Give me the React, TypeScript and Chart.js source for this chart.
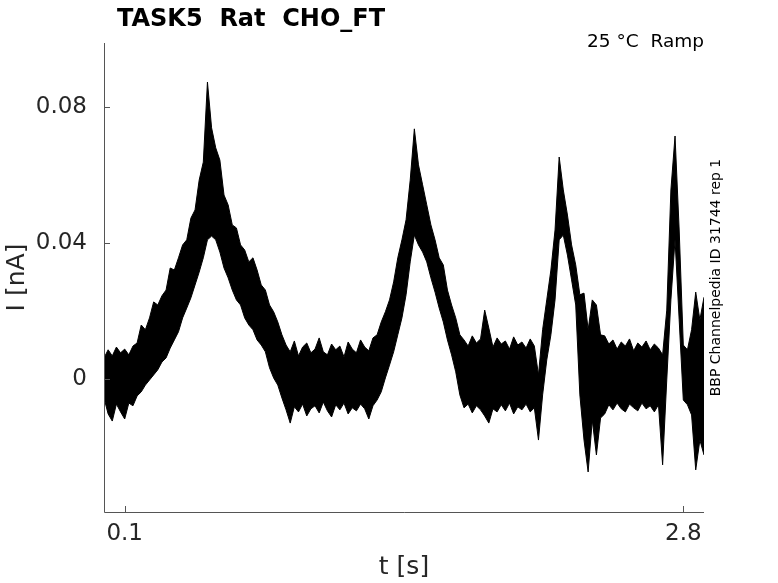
import React, { useEffect, useRef } from "react";
import { Chart, registerables } from "chart.js";

Chart.register(...registerables);

// time axis [s]
const timeS = [
  0.0, 0.02, 0.04, 0.06, 0.08, 0.1, 0.12, 0.14, 0.16, 0.18,
  0.2, 0.22, 0.24, 0.26, 0.28, 0.3, 0.32, 0.34, 0.36, 0.38,
  0.4, 0.42, 0.44, 0.46, 0.48, 0.5, 0.52, 0.54, 0.56, 0.58,
  0.6, 0.62, 0.64, 0.66, 0.68, 0.7, 0.72, 0.74, 0.76, 0.78,
  0.8, 0.82, 0.84, 0.86, 0.88, 0.9, 0.92, 0.94, 0.96, 0.98,
  1.0, 1.02, 1.04, 1.06, 1.08, 1.1, 1.12, 1.14, 1.16, 1.18,
  1.2, 1.22, 1.24, 1.26, 1.28, 1.3, 1.32, 1.34, 1.36, 1.38,
  1.4, 1.42, 1.44, 1.46, 1.48, 1.5, 1.52, 1.54, 1.56, 1.58,
  1.6, 1.62, 1.64, 1.66, 1.68, 1.7, 1.72, 1.74, 1.76, 1.78,
  1.8, 1.82, 1.84, 1.86, 1.88, 1.9, 1.92, 1.94, 1.96, 1.98,
  2.0, 2.02, 2.04, 2.06, 2.08, 2.1, 2.12, 2.14, 2.16, 2.18,
  2.2, 2.22, 2.24, 2.26, 2.28, 2.3, 2.32, 2.34, 2.36, 2.38,
  2.4, 2.42, 2.44, 2.46, 2.48, 2.5, 2.52, 2.54, 2.56, 2.58,
  2.6, 2.62, 2.64, 2.66, 2.68, 2.7, 2.72, 2.74, 2.76, 2.78,
  2.8, 2.82, 2.84, 2.86, 2.88, 2.9,
];

// upper envelope of the noisy current trace [nA]
const upperNA = [
  0.0061, 0.0085, 0.0067, 0.0093, 0.0076, 0.0087, 0.007, 0.0096, 0.0105, 0.0158,
  0.0144, 0.0179, 0.0226, 0.0217, 0.0244, 0.0261, 0.0326, 0.032, 0.0356, 0.0394,
  0.0409, 0.0473, 0.0497, 0.0585, 0.0638, 0.0874, 0.0739, 0.068, 0.0644, 0.0541,
  0.0512, 0.0453, 0.0444, 0.0394, 0.0379, 0.0344, 0.0356, 0.032, 0.0276, 0.0261,
  0.0217, 0.0197, 0.0167, 0.0129, 0.0099, 0.0079, 0.0111, 0.0067, 0.0093, 0.0105,
  0.0076, 0.0087, 0.012, 0.0079, 0.007, 0.0102, 0.0085, 0.0096, 0.0064, 0.0108,
  0.0087, 0.0076, 0.0114, 0.0093, 0.0082, 0.012, 0.0129, 0.0167, 0.0197, 0.0232,
  0.0285, 0.0356, 0.0409, 0.0468, 0.0585, 0.0736, 0.063, 0.0571, 0.0512, 0.0453,
  0.0409, 0.0356, 0.0335, 0.0261, 0.0217, 0.0179, 0.0129, 0.0114, 0.0096, 0.0126,
  0.0105, 0.0117, 0.0202, 0.0149, 0.0093, 0.012, 0.0102, 0.0111, 0.0087, 0.0123,
  0.0099, 0.0108, 0.009, 0.0117, 0.0096, 0.0011, 0.0144, 0.0232, 0.032, 0.0438,
  0.0653, 0.0556, 0.0482, 0.0394, 0.0335, 0.0247, 0.0252, 0.0144, 0.0232, 0.0217,
  0.0129, 0.0126, 0.0102, 0.0114, 0.0087, 0.0108, 0.0096, 0.0117, 0.0082, 0.0105,
  0.0093, 0.0111, 0.0085, 0.0102, 0.009, 0.007, 0.0202, 0.0556, 0.0715, 0.0438,
  0.0099, 0.0085, 0.0144, 0.0255, 0.0173, 0.024,
];

// lower envelope of the noisy current trace [nA]
const lowerNA = [
  -0.0057, -0.0104, -0.0125, -0.0075, -0.0098, -0.0119, -0.0072, -0.008, -0.0051, -0.0039,
  -0.0019, -0.0004, 0.0011, 0.0026, 0.0049, 0.0061, 0.009, 0.0114, 0.0138, 0.0179,
  0.0208, 0.0238, 0.0276, 0.0314, 0.0356, 0.0409, 0.042, 0.0409, 0.0373, 0.0326,
  0.0297, 0.0261, 0.0232, 0.0217, 0.0179, 0.0158, 0.0144, 0.0114, 0.0099, 0.0079,
  0.0032, 0.0002, -0.0019, -0.0057, -0.0092, -0.0131, -0.0083, -0.0098, -0.0075, -0.011,
  -0.0089, -0.008, -0.0101, -0.0069, -0.0095, -0.0113, -0.0077, -0.0092, -0.0072, -0.0104,
  -0.0086, -0.0095, -0.0075, -0.0089, -0.0119, -0.008, -0.0063, -0.0039, 0.0002, 0.004,
  0.0079, 0.0129, 0.0179, 0.0247, 0.0344, 0.0423, 0.0394, 0.0373, 0.0344, 0.0297,
  0.0255, 0.0208, 0.0167, 0.0114, 0.007, 0.002, -0.0048, -0.0086, -0.0075, -0.0101,
  -0.008, -0.0092, -0.011, -0.0131, -0.0089, -0.0098, -0.0077, -0.0095, -0.0072, -0.0104,
  -0.0083, -0.0092, -0.0075, -0.0098, -0.0086, -0.0181, -0.0048, 0.0055, 0.0129, 0.0232,
  0.0409, 0.0423, 0.0364, 0.0291, 0.0217, -0.0048, -0.0181, -0.0275, -0.0122, -0.0225,
  -0.0116, -0.0104, -0.0077, -0.0092, -0.0072, -0.0089, -0.0098, -0.0075, -0.0086, -0.0095,
  -0.0072, -0.0089, -0.008, -0.0098, -0.0077, -0.0254, -0.0004, 0.0232, 0.041, 0.0173,
  -0.0063, -0.0077, -0.0107, -0.0269, -0.0181, -0.0225,
];

const xMin = 0;
const xMax = 2.9;
const yMin = -0.0393;
const yMax = 0.0989;
const xTicks = [0.1, 2.8];
const xTickLabels = ["0.1", "2.8"];
const yTicks = [0, 0.04, 0.08];
const yTickLabels = ["0", "0.04", "0.08"];

const titleText = "TASK5  Rat  CHO_FT";
const conditionText = "25 °C  Ramp";
const sourceText = "BBP Channelpedia ID 31744 rep 1";
const xTitle = "t [s]";
const yTitle = "I [nA]";

const FONT = '"DejaVu Sans", "Liberation Sans", sans-serif';

const decorPlugin = {
  id: "matlabDecor",
  afterDraw(chart: any) {
    const { ctx, chartArea } = chart;
    const xs = chart.scales.x;
    const ys = chart.scales.y;
    const { left, right, top, bottom } = chartArea;
    ctx.save();

    // axis lines
    ctx.strokeStyle = "#555555";
    ctx.lineWidth = 1;
    ctx.beginPath();
    ctx.moveTo(left + 0.5, top);
    ctx.lineTo(left + 0.5, bottom + 0.5);
    ctx.lineTo(right, bottom + 0.5);
    ctx.stroke();

    // inward ticks
    ctx.beginPath();
    xTicks.forEach((v) => {
      const px = Math.round(xs.getPixelForValue(v)) + 0.5;
      ctx.moveTo(px, bottom);
      ctx.lineTo(px, bottom - 6);
    });
    yTicks.forEach((v) => {
      const py = Math.round(ys.getPixelForValue(v)) + 0.5;
      ctx.moveTo(left, py);
      ctx.lineTo(left + 6, py);
    });
    ctx.stroke();

    // tick labels
    ctx.fillStyle = "#262626";
    ctx.font = `23px ${FONT}`;
    ctx.textAlign = "center";
    ctx.textBaseline = "middle";
    xTicks.forEach((v, i) => {
      ctx.fillText(xTickLabels[i], xs.getPixelForValue(v), bottom + 22);
    });
    ctx.textAlign = "right";
    yTicks.forEach((v, i) => {
      ctx.fillText(yTickLabels[i], left - 17, ys.getPixelForValue(v));
    });

    // axis titles
    ctx.font = `25px ${FONT}`;
    ctx.textAlign = "center";
    ctx.textBaseline = "middle";
    ctx.fillText(xTitle, (left + right) / 2, bottom + 55);
    ctx.save();
    ctx.translate(17, (top + bottom) / 2);
    ctx.rotate(-Math.PI / 2);
    ctx.fillText(yTitle, 0, 0);
    ctx.restore();

    // title
    ctx.fillStyle = "#000000";
    ctx.font = `bold 24px ${FONT}`;
    ctx.textAlign = "left";
    ctx.textBaseline = "alphabetic";
    ctx.fillText(titleText, 117, 26);

    // condition text
    ctx.font = `18.5px ${FONT}`;
    ctx.textAlign = "right";
    ctx.fillText(conditionText, right, 47);

    // source text (vertical)
    ctx.save();
    ctx.translate(720, (top + bottom) / 2);
    ctx.rotate(-Math.PI / 2);
    ctx.font = `14px ${FONT}`;
    ctx.textAlign = "center";
    ctx.textBaseline = "alphabetic";
    ctx.fillText(sourceText, 0, 0);
    ctx.restore();

    ctx.restore();
  },
};

export default function App() {
  const canvasRef = useRef<HTMLCanvasElement | null>(null);

  useEffect(() => {
    const canvas = canvasRef.current;
    if (!canvas) return;
    const upperPts = timeS.map((t, i) => ({ x: t, y: upperNA[i] }));
    const lowerPts = timeS.map((t, i) => ({ x: t, y: lowerNA[i] }));
    const chart = new Chart(canvas, {
      type: "line",
      data: {
        datasets: [
          {
            label: "upper",
            data: upperPts,
            borderColor: "#000000",
            backgroundColor: "#000000",
            borderWidth: 1,
            pointRadius: 0,
            tension: 0,
            fill: false,
          },
          {
            label: "lower",
            data: lowerPts,
            borderColor: "#000000",
            backgroundColor: "#000000",
            borderWidth: 1,
            pointRadius: 0,
            tension: 0,
            fill: "-1",
          },
        ],
      },
      options: {
        animation: false,
        responsive: false,
        devicePixelRatio: 1,
        events: [],
        layout: { padding: { left: 104, top: 43, right: 74, bottom: 71 } },
        plugins: {
          legend: { display: false },
          tooltip: { enabled: false },
          title: { display: false },
        },
        scales: {
          x: { type: "linear", display: false, min: xMin, max: xMax },
          y: { type: "linear", display: false, min: yMin, max: yMax },
        },
      },
      plugins: [decorPlugin],
    });
    return () => chart.destroy();
  }, []);

  return (
    <div
      style={{
        position: "fixed",
        left: 0,
        top: 0,
        width: 778,
        height: 583,
        background: "#ffffff",
      }}
    >
      <canvas ref={canvasRef} width={778} height={583} />
    </div>
  );
}
